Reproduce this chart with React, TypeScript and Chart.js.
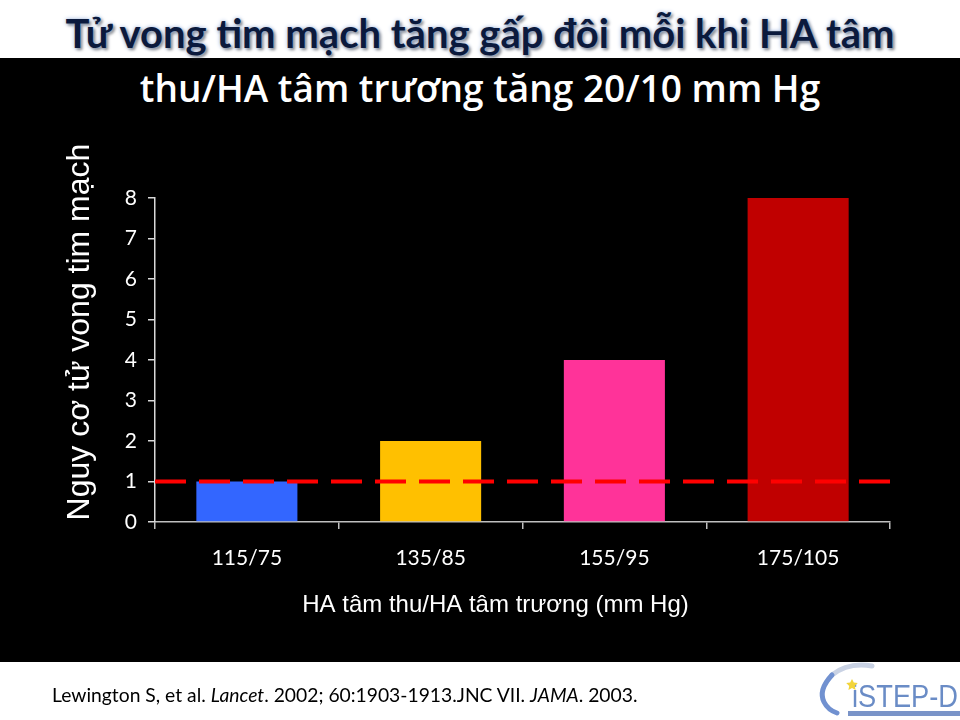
import React, { useEffect, useRef } from "react";
import { Chart, registerables } from "chart.js";

Chart.register(...registerables);

const categories = ["115/75", "135/85", "155/95", "175/105"];
const riskValues = [1, 2, 4, 8];
const barColors = ["#3366FF", "#FFC000", "#FF3399", "#C00000"];
const yMin = 0;
const yMax = 8;
const yStep = 1;
const referenceLevel = 1;
const titleLine1 = "Tử vong tim mạch tăng gấp đôi mỗi khi HA tâm";
const titleLine2 = "thu/HA tâm trương tăng 20/10 mm Hg";
const yAxisTitle = "Nguy cơ tử vong tim mạch";
const xAxisTitle = "HA tâm thu/HA tâm trương (mm Hg)";

const overlayPlugin = {
  id: "overlay",
  afterDatasetsDraw(chart: any) {
    const { ctx, chartArea, scales } = chart;
    const y = scales.y.getPixelForValue(referenceLevel);
    ctx.save();
    ctx.strokeStyle = "#FF0000";
    ctx.lineWidth = 4;
    ctx.setLineDash([31, 13]);
    ctx.beginPath();
    ctx.moveTo(chartArea.left, y);
    ctx.lineTo(chartArea.right, y);
    ctx.stroke();
    ctx.restore();
  },
  afterDraw(chart: any) {
    const { ctx, chartArea } = chart;
    ctx.save();
    ctx.fillStyle = "#FFFFFF";
    ctx.textAlign = "center";
    ctx.textBaseline = "middle";
    ctx.font = "32px 'Liberation Sans', Arial, sans-serif";
    const cy = (chartArea.top + chartArea.bottom) / 2 - 28;
    ctx.translate(chartArea.left - 75, cy);
    ctx.rotate(-Math.PI / 2);
    ctx.fillText(yAxisTitle, 0, 0);
    ctx.restore();

    ctx.save();
    ctx.fillStyle = "#FFFFFF";
    ctx.textAlign = "center";
    ctx.textBaseline = "middle";
    ctx.font = "24px 'Liberation Sans', Arial, sans-serif";
    ctx.fillText(xAxisTitle, (chartArea.left + chartArea.right) / 2 - 27, chartArea.bottom + 83);
    ctx.restore();
  },
};

function BarChart() {
  const ref = useRef<HTMLCanvasElement | null>(null);
  useEffect(() => {
    if (!ref.current) return;
    const chart = new Chart(ref.current, {
      type: "bar",
      data: {
        labels: categories,
        datasets: [
          {
            data: riskValues,
            backgroundColor: barColors,
            borderWidth: 0,
            categoryPercentage: 1,
            barPercentage: 0.55,
          },
        ],
      },
      options: {
        animation: false,
        responsive: false,
        maintainAspectRatio: false,
        layout: { padding: { top: 198, left: 0, right: 70, bottom: 138 } },
        plugins: { legend: { display: false }, tooltip: { enabled: false } },
        scales: {
          x: {
            afterFit: (s: any) => {
              s.height = 60;
            },
            border: { color: "#BFBFBF", width: 1.5 },
            grid: {
              display: true,
              drawOnChartArea: false,
              drawTicks: true,
              tickLength: 7,
              color: "#BFBFBF",
              lineWidth: 1.5,
            },
            ticks: {
              color: "#FFFFFF",
              padding: 17,
              font: { family: "Lato, 'Open Sans', sans-serif", size: 21 },
            },
          },
          y: {
            min: yMin,
            max: yMax,
            afterFit: (s: any) => {
              s.width = 155;
            },
            border: { color: "#D9D9D9", width: 1.5 },
            grid: {
              display: true,
              drawOnChartArea: false,
              drawTicks: true,
              tickLength: 7,
              color: "#D9D9D9",
              lineWidth: 1.5,
            },
            ticks: {
              stepSize: yStep,
              color: "#FFFFFF",
              padding: 11,
              font: { family: "Lato, 'Open Sans', sans-serif", size: 21 },
            },
          },
        },
      },
      plugins: [overlayPlugin],
    } as any);
    return () => chart.destroy();
  }, []);
  return <canvas ref={ref} width={960} height={720} style={{ position: "absolute", left: 0, top: 0, width: 960, height: 720 }} />;
}

export default function App() {
  return (
    <div
      style={{
        position: "absolute",
        left: 0,
        top: 0,
        width: 960,
        height: 720,
        overflow: "hidden",
        background: "#FFFFFF",
        fontFamily: "Lato, 'Open Sans', sans-serif",
      }}
    >
      <div style={{ position: "absolute", left: 0, top: 58, width: 960, height: 604, background: "#000000" }} />
      <div
        style={{
          position: "absolute",
          left: 0,
          width: 960,
          top: 8,
          textAlign: "center",
          fontSize: 40,
          fontWeight: 700,
          color: "#0B1A3D",
          lineHeight: "50px",
          textShadow: "0 0 4px #9FB6E0, 2px 2px 3px rgba(0,0,0,0.5)",
          whiteSpace: "nowrap",
        }}
      >
        {titleLine1}
      </div>
      <div
        style={{
          position: "absolute",
          left: 0,
          width: 960,
          top: 63,
          textAlign: "center",
          fontSize: 37,
          fontWeight: 600,
          fontFamily: "'Open Sans', sans-serif",
          color: "#FFFFFF",
          lineHeight: "50px",
          whiteSpace: "nowrap",
        }}
      >
        {titleLine2}
      </div>
      <BarChart />
      <div
        style={{
          position: "absolute",
          left: 52,
          top: 683,
          fontSize: 19.3,
          color: "#000000",
          whiteSpace: "nowrap",
        }}
      >
        Lewington S, et al. <i>Lancet</i>. 2002; 60:1903-1913.JNC VII. <i>JAMA</i>. 2003.
      </div>
      <svg style={{ position: "absolute", left: 810, top: 660 }} width={150} height={60}>
        <path d="M 62 6 Q 38 2 22 15" stroke="#C9D2E4" strokeWidth={5} fill="none" strokeLinecap="round" />
        <path d="M 22 15 Q 8 30 14 42 Q 18 50 27 53" stroke="#7191D0" strokeWidth={5} fill="none" strokeLinecap="round" />
        <text
          x={42}
          y={47}
          fill="#6A8CC6"
          fontFamily="'Liberation Sans', Arial, sans-serif"
          fontSize={31}
          textLength={106}
          lengthAdjust="spacingAndGlyphs"
        >
          iSTEP-D
        </text>
        <path d="M 42 19 l 1.8 3.6 4 0.5 -3 2.8 0.8 4 -3.6 -2 -3.6 2 0.8 -4 -3 -2.8 4 -0.5 z" fill="#F2D43A" />
        <rect x={38} y={51} width={112} height={5} fill="#7A94C8" />
      </svg>
    </div>
  );
}
